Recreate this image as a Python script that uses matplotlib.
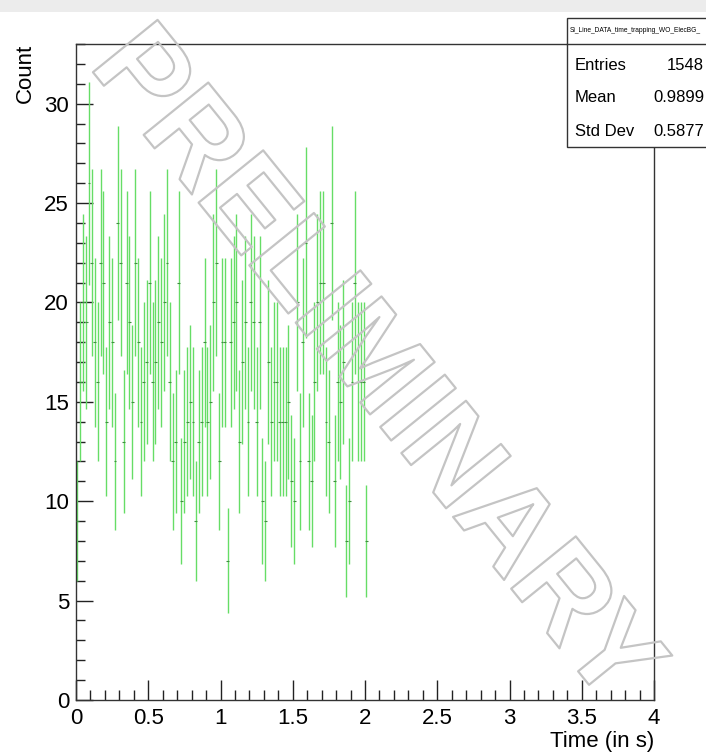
import numpy as np
import matplotlib
matplotlib.use("Agg")
import matplotlib.pyplot as plt
from matplotlib import patheffects
from matplotlib.patches import Rectangle
from matplotlib.ticker import MultipleLocator

plt.rcParams['font.family'] = ['Liberation Sans', 'DejaVu Sans']

# histogram contents, 0.02 s bins starting at 0
bin_width = 0.02
counts = [
    9, 16, 20, 19, 26, 22, 18, 16, 22, 21, 14, 19, 18, 12, 24, 22, 13,
    21, 19, 15, 22, 18, 14, 16, 17, 21, 16, 17, 19, 18, 20, 22, 16, 12,
    13, 21, 10, 13, 14, 15, 14, 9, 13, 14, 18, 14, 15, 20, 22, 12, 18,
    18, 7, 18, 19, 20, 13, 17, 19, 14, 20, 19, 14, 19, 10, 9, 17, 14, 16,
    16, 14, 14, 14, 15, 11, 10, 20, 12, 18, 23, 12, 11, 16, 20, 21,
    21, 14, 13, 24, 11, 16, 15, 17, 8, 10, 16, 21, 16, 16, 16, 8,
]
stats_title = "Si_Line_DATA_time_trapping_WO_ElecBG_"
stats_rows = [("Entries", "1548"), ("Mean", "0.9899"), ("Std Dev", "0.5877")]
x_ticks = [0, 0.5, 1, 1.5, 2, 2.5, 3, 3.5, 4]
x_tick_labels = ["0", "0.5", "1", "1.5", "2", "2.5", "3", "3.5", "4"]

counts = np.array(counts, dtype=float)
centers = bin_width / 2 + bin_width * np.arange(len(counts))
errors = np.sqrt(counts)

fig = plt.figure(figsize=(7.06, 7.56), dpi=100)
W, H = 706, 756

# grey strip at the very top of the canvas
fig.patches.append(Rectangle((0, 1 - 12 / H), 1, 12 / H, transform=fig.transFigure,
                             facecolor='#ececec', edgecolor='none', zorder=0))

ax = fig.add_axes([76 / W, 1 - 700 / H, 578 / W, 656 / H])

ax.errorbar(centers, counts, yerr=errors, fmt='none', ecolor='#66dd66', elinewidth=1.0,
            capsize=0, zorder=2)
ax.errorbar(centers, counts, xerr=bin_width / 2, fmt='none', ecolor='#3f8f3f', elinewidth=0.8,
            capsize=0, zorder=3)

ax.set_xlim(0, 4)
ax.set_ylim(0, 33)
ax.xaxis.set_major_locator(MultipleLocator(0.5))
ax.xaxis.set_minor_locator(MultipleLocator(0.1))
ax.yaxis.set_major_locator(MultipleLocator(5))
ax.yaxis.set_minor_locator(MultipleLocator(1))
ax.set_xticks(x_ticks)
ax.set_xticklabels(x_tick_labels)

ax.tick_params(axis='both', which='both', direction='in', top=False, right=False,
               colors='#222222', labelsize=16, labelcolor='black')
ax.tick_params(axis='x', which='major', length=14.4, width=1, pad=6)
ax.tick_params(axis='x', which='minor', length=7.2, width=1)
ax.tick_params(axis='y', which='major', length=12.5, width=1, pad=5)
ax.tick_params(axis='y', which='minor', length=6.2, width=1)
for sp in ax.spines.values():
    sp.set_color('#333333')
    sp.set_linewidth(1)

fig.text(654 / W, 1 - 742 / H, "Time (in s)", ha='right', va='center', fontsize=16)
fig.text(25 / W, 1 - 44 / H, "Count", ha='center', va='top', rotation=90, fontsize=16)

# statistics box
bx0, bx1, by0, by1 = 567, 712, 18, 147
fig.patches.append(Rectangle((bx0 / W, 1 - by1 / H), (bx1 - bx0) / W, (by1 - by0) / H,
                             transform=fig.transFigure, facecolor='white',
                             edgecolor='#333333', linewidth=1, zorder=5))
fig.add_artist(plt.Line2D([bx0 / W, 1], [1 - 44 / H, 1 - 44 / H], color='#333333',
                          linewidth=1, transform=fig.transFigure, zorder=6))
fig.text(570 / W, 1 - 31 / H, stats_title, fontsize=4.8, ha='left', va='center', zorder=7)
for i, (name, val) in enumerate(stats_rows):
    yy = 1 - (65 + 33 * i) / H
    fig.text(575 / W, yy, name, fontsize=12, ha='left', va='center', zorder=7)
    fig.text(704 / W, yy, val, fontsize=12, ha='right', va='center', zorder=7)

# PRELIMINARY watermark, outlined only
fig.text(373 / W, 1 - 368 / H, "PRELIMINARY", fontsize=87, fontweight='bold', rotation=-51,
         ha='center', va='center', color='none', zorder=10,
         path_effects=[patheffects.Stroke(linewidth=1.6, foreground='#c4c4c4')])

fig.savefig("out.png", dpi=100)
